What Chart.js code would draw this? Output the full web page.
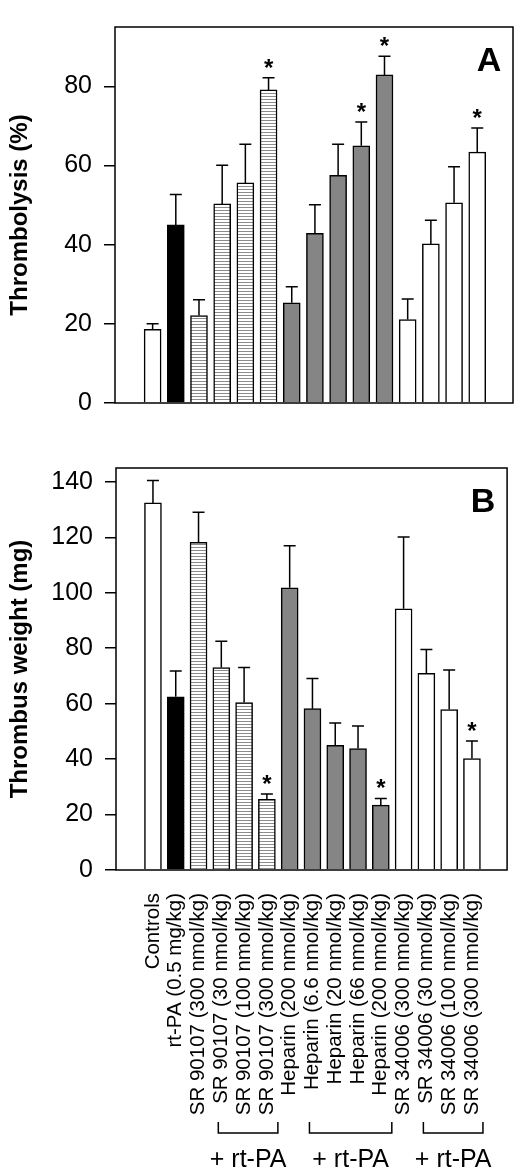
<!DOCTYPE html>
<html>
<head>
<meta charset="utf-8">
<script src="https://cdn.jsdelivr.net/npm/chart.js@4"></script>
<style>
  body { margin: 0; background: #fff; }
  canvas { display: block; }
</style>
</head>
<body>
<canvas id="chartA" width="520" height="430"></canvas>
<canvas id="chartB" width="520" height="744"></canvas>
<script>
const labels = [
  "Controls",
  "rt-PA (0.5 mg/kg)",
  "SR 90107 (300 nmol/kg)",
  "SR 90107 (30 nmol/kg)",
  "SR 90107 (100 nmol/kg)",
  "SR 90107 (300 nmol/kg)",
  "Heparin (200 nmol/kg)",
  "Heparin (6.6 nmol/kg)",
  "Heparin (20 nmol/kg)",
  "Heparin (66 nmol/kg)",
  "Heparin (200 nmol/kg)",
  "SR 34006 (300 nmol/kg)",
  "SR 34006 (30 nmol/kg)",
  "SR 34006 (100 nmol/kg)",
  "SR 34006 (300 nmol/kg)",
];
// fill style per bar
const groups = ["white", "black", "stripe", "stripe", "stripe", "stripe",
  "gray", "gray", "gray", "gray", "gray", "white", "white", "white", "white"];

const lysis = [18.6, 45.0, 22.1, 50.3, 55.6, 79.1, 25.3, 42.9, 57.5, 65.0, 82.9, 21.1, 40.2, 50.6, 63.4];
const lysisErr = [1.4, 7.7, 4.0, 9.8, 9.8, 3.1, 4.1, 7.2, 7.9, 6.0, 4.7, 5.2, 6.0, 9.1, 6.1];
const lysisStars = [5, 9, 10, 14];

const weight = [132.4, 62.5, 118.2, 73.0, 60.4, 25.5, 101.8, 58.2, 45.0, 43.8, 23.4, 94.2, 70.9, 57.9, 40.2];
const weightErr = [8.1, 9.3, 10.8, 9.5, 12.6, 1.9, 15.2, 10.9, 8.0, 8.1, 2.4, 25.9, 8.6, 14.2, 6.3];
const weightStars = [5, 10, 14];

// brackets under the labels: first bar, last bar, text
const brackets = [
  [3, 5, "+ rt-PA"],
  [7, 10, "+ rt-PA"],
  [12, 14, "+ rt-PA"],
];

const FONT = "'Liberation Sans', Arial, Helvetica, sans-serif";

// horizontal stripes
const pc = document.createElement("canvas");
pc.width = 4;
pc.height = 3;
const pctx = pc.getContext("2d");
pctx.fillStyle = "#fff";
pctx.fillRect(0, 0, 4, 3);
pctx.fillStyle = "#8c8c8c";
pctx.fillRect(0, 0, 4, 1);
const stripes = pctx.createPattern(pc, "repeat");

const fills = { white: "#fff", black: "#000", gray: "#858585", stripe: stripes };

function makeChart(el, values, errs, stars, yTitle, yMax, letter, pad, yWidth, withLabels) {
  const extras = {
    id: "extras",
    afterDatasetsDraw(chart) {
      const c = chart.ctx;
      const a = chart.chartArea;
      const x = chart.scales.x;
      const y = chart.scales.y;
      c.save();
      c.strokeStyle = "#000";
      c.fillStyle = "#000";
      c.lineWidth = 1.5;
      // error bars
      values.forEach((v, i) => {
        const px = x.getPixelForValue(i);
        const y0 = y.getPixelForValue(v);
        const y1 = y.getPixelForValue(v + errs[i]);
        c.beginPath();
        c.moveTo(px, y0);
        c.lineTo(px, y1);
        c.moveTo(px - 6, y1);
        c.lineTo(px + 6, y1);
        c.stroke();
      });
      // stars
      c.font = "bold 24px " + FONT;
      c.textAlign = "center";
      c.textBaseline = "alphabetic";
      stars.forEach((i) => {
        const px = x.getPixelForValue(i);
        const y1 = y.getPixelForValue(values[i] + errs[i]);
        c.fillText("*", px, y1 - 2);
      });
      // frame
      c.strokeRect(a.left, a.top, a.right - a.left, a.bottom - a.top);
      // panel letter
      c.font = "bold 34px " + FONT;
      c.textAlign = "center";
      c.textBaseline = "top";
      c.fillText(letter, a.right - 24, a.top + 18);
      // brackets
      if (withLabels) {
        c.font = "25px " + FONT;
        c.textBaseline = "middle";
        brackets.forEach(([i0, i1, txt]) => {
          const x0 = x.getPixelForValue(i0) - 3;
          const x1 = x.getPixelForValue(i1) + 11;
          const by = a.bottom + 263;
          c.beginPath();
          c.moveTo(x0, by - 11);
          c.lineTo(x0, by);
          c.lineTo(x1, by);
          c.lineTo(x1, by - 11);
          c.stroke();
          c.fillText(txt, (x0 + x1) / 2, a.bottom + 290);
        });
      }
      c.restore();
    },
  };

  return new Chart(el, {
    type: "bar",
    data: {
      datasets: [
        {
          data: values.map((v, i) => ({ x: i, y: v })),
          backgroundColor: groups.map((g) => fills[g]),
          borderColor: "#000",
          borderWidth: 1.5,
          barThickness: 17,
        },
      ],
    },
    options: {
      responsive: false,
      animation: false,
      layout: { padding: pad },
      plugins: { legend: { display: false }, tooltip: { enabled: false } },
      scales: {
        x: {
          type: "linear",
          min: -1.05,
          max: 14.97,
          display: withLabels,
          grid: { display: false, drawTicks: false },
          border: { display: false },
          afterBuildTicks: (s) => {
            s.ticks = labels.map((_, i) => ({ value: i }));
          },
          afterFit: (s) => {
            if (withLabels) s.height = 304;
          },
          ticks: {
            autoSkip: false,
            minRotation: 90,
            maxRotation: 90,
            padding: 23,
            color: "#000",
            font: { family: FONT, size: 20.5 },
            callback: (v) => labels[v],
          },
        },
        y: {
          min: 0,
          max: yMax,
          afterFit: (s) => {
            s.width = yWidth;
          },
          grid: {
            drawOnChartArea: false,
            drawTicks: true,
            tickLength: 11,
            color: "#000",
            lineWidth: 1.5,
          },
          border: { display: false },
          ticks: {
            stepSize: 20,
            includeBounds: false,
            padding: 12,
            color: "#000",
            font: { family: FONT, size: 25 },
          },
          title: {
            display: true,
            text: yTitle,
            color: "#000",
            padding: { top: 6, bottom: 0 },
            font: { family: FONT, size: 24, weight: "bold" },
          },
        },
      },
    },
    plugins: [extras],
  });
}

makeChart(document.getElementById("chartA"), lysis, lysisErr, lysisStars,
  "Thrombolysis (%)", 95, "A", { left: 0, top: 3, right: 7, bottom: 27 }, 115, false);
makeChart(document.getElementById("chartB"), weight, weightErr, weightStars,
  "Thrombus weight (mg)", 145, "B", { left: 0, top: 38, right: 5, bottom: 0 }, 116, true);
</script>
</body>
</html>
